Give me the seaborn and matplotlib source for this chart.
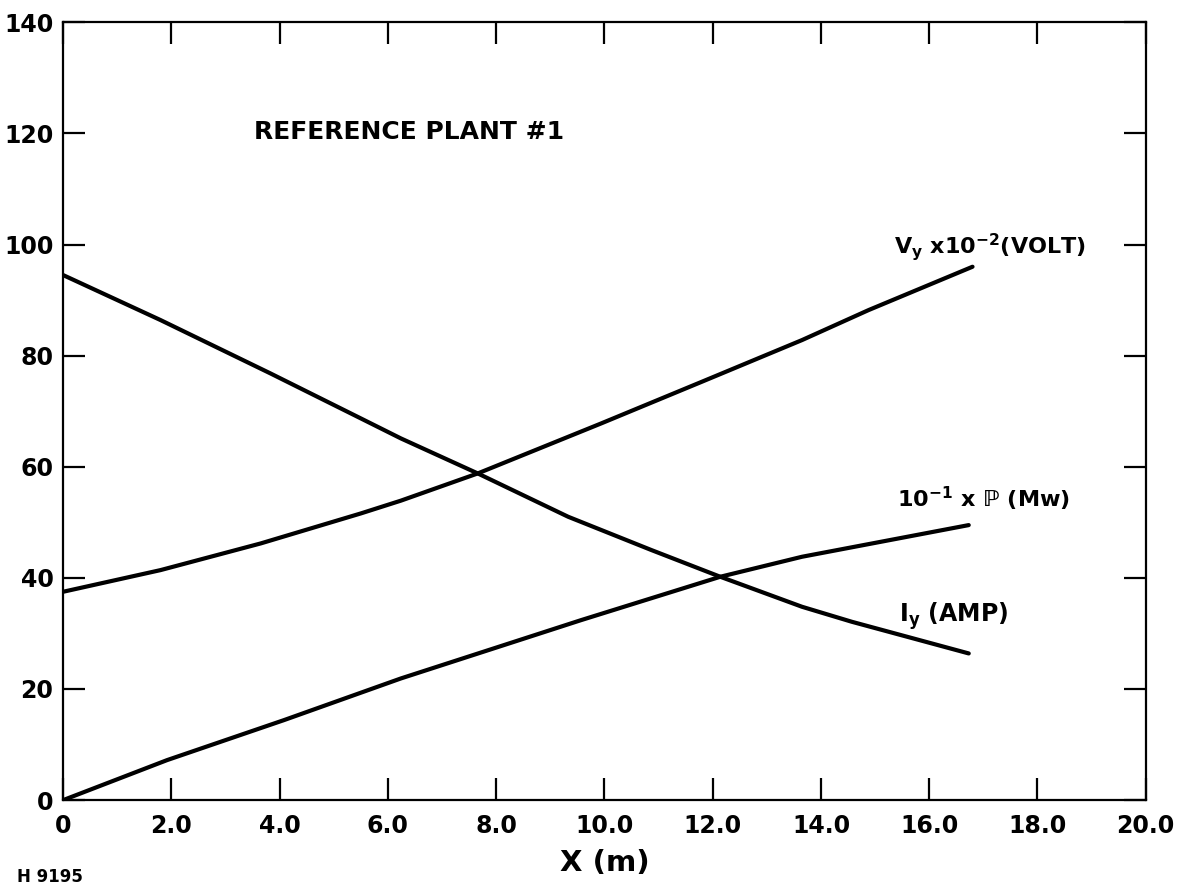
import matplotlib
matplotlib.use("Agg")
import matplotlib.pyplot as plt
import seaborn as sns
import pandas as pd

# ---- data ----
v_x = [0.0, 1.8, 3.65, 5.5, 6.24, 7.66, 9.94, 11.8, 13.65, 14.88, 16.8]
v_y = [37.5, 41.4, 46.2, 51.6, 53.9, 58.8, 67.8, 75.3, 82.8, 88.2, 96.0]

i_x = [0.0, 1.8, 3.83, 5.5, 6.24, 7.66, 9.33, 10.87, 12.14, 13.65, 14.57, 16.73]
i_y = [94.5, 86.4, 76.8, 68.7, 65.1, 58.8, 51.0, 45.0, 40.2, 34.8, 32.1, 26.4]

p_x = [0.0, 1.92, 4.08, 6.24, 9.57, 12.14, 13.65, 16.73]
p_y = [0.0, 7.2, 14.4, 21.9, 32.4, 40.2, 43.8, 49.5]

x_ticks = [0, 2, 4, 6, 8, 10, 12, 14, 16, 18, 20]
x_tick_labels = ["0", "2.0", "4.0", "6.0", "8.0", "10.0", "12.0", "14.0", "16.0", "18.0", "20.0"]
y_ticks = [0, 20, 40, 60, 80, 100, 120, 140]
y_tick_labels = ["0", "20", "40", "60", "80", "100", "120", "140"]

label_v = r"V$_\mathregular{y}$ x10$^\mathregular{-2}$(VOLT)"
label_p = "10$^\\mathregular{-1}$ x \u2119 (Mw)"
label_i = r"I$_\mathregular{y}$ (AMP)"
title_text = "REFERENCE PLANT #1"

df = pd.concat([
    pd.DataFrame({"x": v_x, "y": v_y, "series": "V"}),
    pd.DataFrame({"x": i_x, "y": i_y, "series": "I"}),
    pd.DataFrame({"x": p_x, "y": p_y, "series": "P"}),
], ignore_index=True)

sns.set_style("ticks")
plt.rcParams["font.family"] = ["DejaVu Sans"]
for k in ["text.color", "axes.labelcolor", "xtick.color", "ytick.color", "axes.edgecolor"]:
    plt.rcParams[k] = "black"

fig = plt.figure(figsize=(11.91, 8.91), dpi=100)
ax = fig.add_axes([0.053, 0.102, 0.909, 0.873])

sns.lineplot(data=df, x="x", y="y", units="series", estimator=None,
             color="black", linewidth=3.0, ax=ax, legend=False)

ax.set_xlim(0, 20)
ax.set_ylim(0, 140)
ax.set_xticks(x_ticks)
ax.set_xticklabels(x_tick_labels, fontsize=17, fontweight="bold")
ax.set_yticks(y_ticks)
ax.set_yticklabels(y_tick_labels, fontsize=17, fontweight="bold")
ax.tick_params(axis="both", direction="in", length=16, width=1.6,
               top=True, right=True, color="black", labelcolor="black")
ax.tick_params(axis="x", pad=10)
ax.tick_params(axis="y", pad=7)
for s in ax.spines.values():
    s.set_visible(True)
    s.set_linewidth(1.6)
    s.set_color("black")

ax.set_xlabel("X (m)", fontsize=21, fontweight="bold", labelpad=8, color="black")
ax.set_ylabel("")

ax.text(3.52, 120.2, title_text, fontsize=18, fontweight="bold", va="center", ha="left", color="black")
ax.text(15.35, 99.5, label_v, fontsize=16, fontweight="bold", va="center", ha="left", color="black")
ax.text(15.4, 54.2, label_p, fontsize=16, fontweight="bold", va="center", ha="left", color="black")
ax.text(15.45, 33.2, label_i, fontsize=17, fontweight="bold", va="center", ha="left", color="black")

fig.text(17 / 1191, 1 - 877 / 891, "H 9195", fontsize=12, fontweight="bold",
         va="center", ha="left", color="black")

fig.savefig("out.png", dpi=100)
